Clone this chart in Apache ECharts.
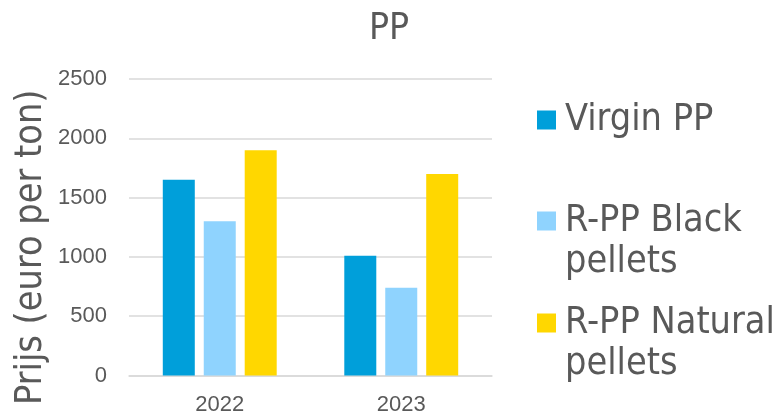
<!DOCTYPE html>
<html>
<head>
<meta charset="utf-8">
<script src="https://cdn.jsdelivr.net/npm/echarts@6/dist/echarts.min.js"></script>
<style>
  html, body { margin: 0; padding: 0; background: #fff; }
  #chart { width: 782px; height: 417px; }
</style>
</head>
<body>
<div id="chart"></div>
<script>
const years = ["2022", "2023"];
const seriesNames = ["Virgin PP", "R-PP Black pellets", "R-PP Natural pellets"];
// blank first line keeps the icon level with the first text line
const legendLabels = ["Virgin PP", "\nR-PP Black\npellets", "\nR-PP Natural\npellets"];
const virginPP = [1650, 1010];
const blackPellets = [1300, 740];
const naturalPellets = [1900, 1700];
const colors = ["#009FDA", "#8FD3FE", "#FFD700"];

const textColor = "#595959";
const bigFont = "'DejaVu Sans Condensed', 'DejaVu Sans', sans-serif";

const chart = echarts.init(document.getElementById("chart"));

const legendCenters = [120, 221, 323];
const legends = seriesNames.map((name, i) => ({
  data: [name],
  orient: "vertical",
  left: 537,
  top: i === 0 ? legendCenters[i] - 20.5 : legendCenters[i] - 61.5,
  padding: 0,
  icon: "rect",
  itemWidth: 19,
  itemHeight: 19,
  selectedMode: false,
  formatter: () => legendLabels[i],
  textStyle: {
    color: textColor,
    fontFamily: bigFont,
    fontSize: 37.5,
    lineHeight: 41,
    padding: [0, 0, 0, 4],
  },
}));

const values = [virginPP, blackPellets, naturalPellets];

const option = {
  animation: false,
  color: colors,
  title: {
    text: "PP",
    left: 364,
    top: 6,
    textStyle: {
      color: textColor,
      fontFamily: bigFont,
      fontSize: 37,
      fontWeight: "normal",
    },
  },
  legend: legends,
  grid: {
    left: 129,
    right: 290,
    top: 79,
    bottom: 41.5,
  },
  xAxis: {
    type: "category",
    data: years,
    axisTick: { show: false },
    axisLine: { lineStyle: { color: "#D9D9D9", width: 1.5 } },
    axisLabel: {
      color: textColor,
      fontFamily: "'Liberation Sans', sans-serif",
      fontSize: 22,
      margin: 18,
    },
  },
  yAxis: {
    type: "value",
    min: 0,
    max: 2500,
    interval: 500,
    name: "Prijs (euro per ton)",
    nameLocation: "middle",
    nameGap: 79,
    nameTextStyle: {
      color: textColor,
      fontFamily: bigFont,
      fontSize: 37.5,
      padding: [0, 40, 0, 0],
    },
    axisLine: { show: false },
    axisTick: { show: false },
    splitLine: { lineStyle: { color: "#D9D9D9", width: 1.5 } },
    axisLabel: {
      color: textColor,
      fontFamily: "'Liberation Sans', sans-serif",
      fontSize: 22,
      margin: 22,
      formatter: (v) => String(v),
    },
  },
  series: seriesNames.map((name, i) => ({
    name: name,
    type: "bar",
    data: values[i],
    barWidth: 32,
    barGap: "28%",
    itemStyle: { color: colors[i] },
  })),
};

chart.setOption(option);
</script>
</body>
</html>
